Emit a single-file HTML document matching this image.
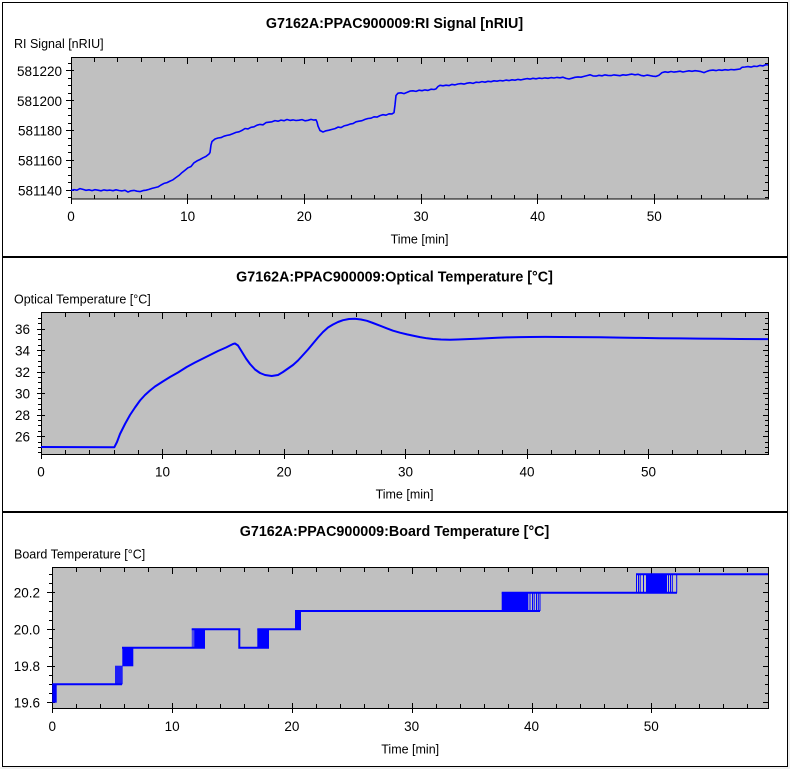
<!DOCTYPE html>
<html>
<head>
<meta charset="utf-8">
<style>
html,body{margin:0;padding:0;background:#f0f0f0;}
svg{display:block;}
text{font-family:"Liberation Sans",Arial,sans-serif;fill:#000;}
.t{font-size:14.3px;font-weight:bold;}
.l{font-size:12.5px;}
.k{font-size:13.5px;}
</style>
</head>
<body>
<svg width="790" height="769" viewBox="0 0 790 769" xmlns="http://www.w3.org/2000/svg">
<rect x="0" y="0" width="790" height="769" fill="#f0f0f0"/>
<rect x="0" y="0" width="788" height="767" fill="#fff"/>
<rect x="2.5" y="2.5" width="785" height="764" fill="none" stroke="#000" stroke-width="1"/>
<rect x="2" y="256" width="786" height="2" fill="#000"/>
<rect x="2" y="511" width="786" height="2" fill="#000"/>

<!-- ============ PANEL 1 ============ -->
<text class="t" x="394.5" y="28" text-anchor="middle">G7162A:PPAC900009:RI Signal [nRIU]</text>
<text class="l" x="14" y="48">RI Signal [nRIU]</text>
<rect x="71.5" y="57.5" width="697" height="141.5" fill="#c0c0c0" stroke="#000" stroke-width="1"/>
<g stroke="#000" stroke-width="1" fill="none" shape-rendering="crispEdges">
<path d="M94.5 195v4M117.5 195v4M141.5 195v4M164.5 195v4M211.5 195v4M234.5 195v4M257.5 195v4M281.5 195v4M327.5 195v4M351.5 195v4M374.5 195v4M397.5 195v4M444.5 195v4M467.5 195v4M491.5 195v4M514.5 195v4M561.5 195v4M584.5 195v4M607.5 195v4M631.5 195v4M677.5 195v4M701.5 195v4M724.5 195v4M747.5 195v4"/>
<path d="M71.5 194v10M187.5 194v10M304.5 194v10M421.5 194v10M537.5 194v10M654.5 194v10"/>
<path d="M94.5 58v4M117.5 58v4M141.5 58v4M164.5 58v4M211.5 58v4M234.5 58v4M257.5 58v4M281.5 58v4M327.5 58v4M351.5 58v4M374.5 58v4M397.5 58v4M444.5 58v4M467.5 58v4M491.5 58v4M514.5 58v4M561.5 58v4M584.5 58v4M607.5 58v4M631.5 58v4M677.5 58v4M701.5 58v4M724.5 58v4M747.5 58v4"/>
<path d="M187.5 58v6M304.5 58v6M421.5 58v6M537.5 58v6M654.5 58v6"/>
<path d="M68 197.5h3M68 182.5h3M68 175.5h3M68 167.5h3M68 152.5h3M68 145.5h3M68 138.5h3M68 123.5h3M68 115.5h3M68 108.5h3M68 93.5h3M68 85.5h3M68 78.5h3M68 63.5h3"/>
<path d="M66 190.5h8M66 160.5h8M66 130.5h8M66 100.5h8M66 70.5h8"/>
<path d="M765 197.5h3M765 182.5h3M765 175.5h3M765 167.5h3M765 152.5h3M765 145.5h3M765 138.5h3M765 123.5h3M765 115.5h3M765 108.5h3M765 93.5h3M765 85.5h3M765 78.5h3M765 63.5h3"/>
<path d="M763 190.5h5M763 160.5h5M763 130.5h5M763 100.5h5M763 70.5h5"/>
</g>
<g text-anchor="end">
<text class="k" x="62" y="195.5">581140</text>
<text class="k" x="62" y="165.5">581160</text>
<text class="k" x="62" y="135.6">581180</text>
<text class="k" x="62" y="105.8">581200</text>
<text class="k" x="62" y="76">581220</text>
</g>
<g text-anchor="middle">
<text class="k" x="71" y="221">0</text>
<text class="k" x="187.7" y="221">10</text>
<text class="k" x="304.3" y="221">20</text>
<text class="k" x="421" y="221">30</text>
<text class="k" x="537.7" y="221">40</text>
<text class="k" x="654.3" y="221">50</text>
</g>
<text class="l" x="419.5" y="243.3" text-anchor="middle">Time [min]</text>
<polyline fill="none" stroke="#0000ff" stroke-width="1.6" stroke-linejoin="round" points="71,190.5 74,189.6 77,190.2 80,188.6 83,189.4 86,190.3 89,189.8 92,190.6 95,189.7 98,190.2 101,190.8 104,189.9 107,190.4 110,190.1 113,190.7 116,189.8 119,190.5 122,190.9 125,190.3 128,192 131,190.8 134,190.4 137,191.2 140,191.6 143,190.6 146,190.2 149,189.4 152,188.4 155,187.6 158,186.9 161,185 164,183.4 167,182.6 170,181.1 173,179.8 176,177.5 179,175.4 182,172.6 185,170.2 188,167.8 191,166.5 194,162.8 197,160.9 200,159.5 203,157.8 206,156.4 209,154 210,152.5 211,145 212,141.5 215,139 218,138 221,137.6 224,136.2 227,135.4 230,134.8 233,133.6 236,132.4 239,131.8 242,130.4 245,128.5 248,128.9 251,127.3 254,126.8 257,125.2 260,124.4 263,124.8 266,122.6 269,122.2 272,121.8 275,120.6 278,121.2 281,120.1 284,120.7 287,119.5 290,120.4 293,119.9 296,120.5 299,120.2 302,119.6 305,120.8 308,120.3 311,119.4 314,120.1 316,119.8 317,122 318,126 320,130.5 323,132 326,130.8 329,130.2 332,129.4 335,128.6 338,127.1 341,127.6 344,125.9 347,125.2 350,124.1 353,123.6 356,121.8 359,121.2 362,120.7 365,119.4 368,118.5 371,118.2 374,116.8 377,117.1 380,115.6 383,114.7 386,115.2 389,113.8 392,113.9 394,112.6 395,105 396,95.5 398,93.2 401,92.8 404,93.6 407,92.4 410,91.1 413,90.8 416,91.4 419,90.2 422,90.7 425,89.9 428,90.4 431,89.2 434,89.5 436,88.9 438,86.5 440,85.3 443,85.8 446,85.2 449,85.6 452,84.4 455,84.9 458,84 461,83.6 464,84.1 467,83.2 470,82.7 473,83.4 476,82.2 479,82.5 482,81.6 485,82.2 488,81.3 491,81.7 494,80.8 497,81.2 500,80.5 503,80.9 506,80.1 509,80.6 512,79.8 515,80.2 518,79.4 521,79.9 524,79.2 527,78.6 530,79.1 533,78.3 536,78.8 539,78.1 542,78.5 545,77.9 548,78.3 551,77.6 554,78 557,77.4 560,77.8 563,77.2 566,78.4 569,79 572,78.2 575,77.3 578,76.9 581,77.2 584,76.4 587,75.6 590,74.8 593,75.9 596,76.1 599,75.3 602,75.8 605,74.9 608,75.4 611,75.6 614,74.9 617,75.3 620,75.7 623,74.8 626,75.2 629,74.6 632,74.1 635,74.8 638,74.3 641,75.4 644,75.9 647,75.1 650,75.6 653,76.2 656,76.4 659,75.2 662,72.6 665,71.8 668,72.3 671,71.5 674,72.1 677,71.7 680,71.2 683,72 686,71.4 689,70.8 692,71.3 695,70.7 698,71.1 701,71.6 704,72.6 707,71.3 710,70.4 713,70.1 716,70.6 719,69.9 722,70.3 725,69.7 728,70.1 731,69.5 734,69.8 737,69.4 740,69 742,67.3 745,67 748,66.6 751,67.1 754,66.2 757,66.5 760,65.4 763,65.9 766,64.6 768,65"/>

<!-- ============ PANEL 2 ============ -->
<text class="t" x="394.5" y="281.5" text-anchor="middle">G7162A:PPAC900009:Optical Temperature [°C]</text>
<text class="l" x="14" y="303.5">Optical Temperature [°C]</text>
<rect x="41.5" y="312.5" width="727" height="142" fill="#c0c0c0" stroke="#000" stroke-width="1"/>
<g stroke="#000" stroke-width="1" fill="none" shape-rendering="crispEdges">
<path d="M65.5 450v4M89.5 450v4M114.5 450v4M138.5 450v4M186.5 450v4M211.5 450v4M235.5 450v4M259.5 450v4M308.5 450v4M332.5 450v4M356.5 450v4M381.5 450v4M429.5 450v4M454.5 450v4M478.5 450v4M502.5 450v4M551.5 450v4M575.5 450v4M599.5 450v4M624.5 450v4M672.5 450v4M697.5 450v4M721.5 450v4M745.5 450v4"/>
<path d="M41.5 449v10M162.5 449v10M284.5 449v10M405.5 449v10M527.5 449v10M648.5 449v10"/>
<path d="M65.5 313v4M89.5 313v4M114.5 313v4M138.5 313v4M186.5 313v4M211.5 313v4M235.5 313v4M259.5 313v4M308.5 313v4M332.5 313v4M356.5 313v4M381.5 313v4M429.5 313v4M454.5 313v4M478.5 313v4M502.5 313v4M551.5 313v4M575.5 313v4M599.5 313v4M624.5 313v4M672.5 313v4M697.5 313v4M721.5 313v4M745.5 313v4"/>
<path d="M162.5 313v6M284.5 313v6M405.5 313v6M527.5 313v6M648.5 313v6"/>
<path d="M38 318.5h3M38 323.5h3M38 334.5h3M38 339.5h3M38 345.5h3M38 355.5h3M38 361.5h3M38 366.5h3M38 377.5h3M38 382.5h3M38 388.5h3M38 398.5h3M38 404.5h3M38 409.5h3M38 420.5h3M38 425.5h3M38 431.5h3M38 442.5h3M38 447.5h3M38 452.5h3"/>
<path d="M37 329.5h8M37 350.5h8M37 372.5h8M37 393.5h8M37 415.5h8M37 436.5h8"/>
<path d="M765 318.5h3M765 323.5h3M765 334.5h3M765 339.5h3M765 345.5h3M765 355.5h3M765 361.5h3M765 366.5h3M765 377.5h3M765 382.5h3M765 388.5h3M765 398.5h3M765 404.5h3M765 409.5h3M765 420.5h3M765 425.5h3M765 431.5h3M765 442.5h3M765 447.5h3M765 452.5h3"/>
<path d="M763 329.5h5M763 350.5h5M763 372.5h5M763 393.5h5M763 415.5h5M763 436.5h5"/>
</g>
<g text-anchor="end">
<text class="k" x="30" y="334">36</text>
<text class="k" x="30" y="355.5">34</text>
<text class="k" x="30" y="377">32</text>
<text class="k" x="30" y="398.6">30</text>
<text class="k" x="30" y="420">28</text>
<text class="k" x="30" y="441.7">26</text>
</g>
<g text-anchor="middle">
<text class="k" x="41" y="476.3">0</text>
<text class="k" x="162.5" y="476.3">10</text>
<text class="k" x="284" y="476.3">20</text>
<text class="k" x="405.5" y="476.3">30</text>
<text class="k" x="527" y="476.3">40</text>
<text class="k" x="648.5" y="476.3">50</text>
</g>
<text class="l" x="404.5" y="498.6" text-anchor="middle">Time [min]</text>
<polyline fill="none" stroke="#0000ff" stroke-width="2" stroke-linejoin="round" points="41,447 114.3,447.3 117,442 120,434 125,424 130,415 135,407.5 140,400.5 145,395 150,390.5 155,386.5 162,382 170,377 178,372.5 186.7,367 195,362.5 203,358.5 210,355 218,351 226,347.5 233,344 235,343.5 238,345.5 242,352 246,358.5 250,364 255,369.5 260,373 265,375 271.7,376 278,375 283,372 288,368.5 293,365 298,360.5 303,355 308,349.5 313,343.5 318,337.5 323,332 328,327.5 333,324.5 338,322 343,320.2 349,319 355,318.8 361,319.5 367,320.8 373,323 380,325.7 387,328.4 393,330.7 400,332.7 407,334.4 414,335.9 420,337.1 427,338.3 433,339 441,339.5 450,339.7 458,339.5 467,339.1 477,338.7 487,338.3 497,337.8 507,337.4 520,337.1 530,337 545,336.9 560,337 580,337.1 600,337.3 620,337.6 640,337.9 660,338.2 680,338.4 700,338.6 720,338.8 740,339 768,339.1"/>

<!-- ============ PANEL 3 ============ -->
<text class="t" x="394.5" y="536" text-anchor="middle">G7162A:PPAC900009:Board Temperature [°C]</text>
<text class="l" x="14" y="558.5">Board Temperature [°C]</text>
<rect x="52.5" y="567.5" width="716" height="141" fill="#c0c0c0" stroke="#000" stroke-width="1"/>
<g stroke="#000" stroke-width="1" fill="none" shape-rendering="crispEdges">
<path d="M76.5 704v4M100.5 704v4M124.5 704v4M148.5 704v4M196.5 704v4M220.5 704v4M244.5 704v4M268.5 704v4M316.5 704v4M340.5 704v4M364.5 704v4M388.5 704v4M436.5 704v4M460.5 704v4M484.5 704v4M508.5 704v4M556.5 704v4M580.5 704v4M604.5 704v4M627.5 704v4M675.5 704v4M699.5 704v4M723.5 704v4M747.5 704v4"/>
<path d="M52.5 703v10M172.5 703v10M292.5 703v10M412.5 703v10M532.5 703v10M651.5 703v10"/>
<path d="M76.5 568v4M100.5 568v4M124.5 568v4M148.5 568v4M196.5 568v4M220.5 568v4M244.5 568v4M268.5 568v4M316.5 568v4M340.5 568v4M364.5 568v4M388.5 568v4M436.5 568v4M460.5 568v4M484.5 568v4M508.5 568v4M556.5 568v4M580.5 568v4M604.5 568v4M627.5 568v4M675.5 568v4M699.5 568v4M723.5 568v4M747.5 568v4"/>
<path d="M172.5 568v6M292.5 568v6M412.5 568v6M532.5 568v6M651.5 568v6"/>
<path d="M49 693.5h3M49 684.5h3M49 675.5h3M49 656.5h3M49 647.5h3M49 638.5h3M49 620.5h3M49 611.5h3M49 601.5h3M49 583.5h3M49 574.5h3"/>
<path d="M47 702.5h8M47 666.5h8M47 629.5h8M47 592.5h8"/>
<path d="M765 693.5h3M765 684.5h3M765 675.5h3M765 656.5h3M765 647.5h3M765 638.5h3M765 620.5h3M765 611.5h3M765 601.5h3M765 583.5h3M765 574.5h3"/>
<path d="M763 702.5h5M763 666.5h5M763 629.5h5M763 592.5h5"/>
</g>
<g text-anchor="end">
<text class="k" x="40" y="707.5">19.6</text>
<text class="k" x="40" y="671">19.8</text>
<text class="k" x="40" y="634.3">20.0</text>
<text class="k" x="40" y="597.7">20.2</text>
</g>
<g text-anchor="middle">
<text class="k" x="52.3" y="731">0</text>
<text class="k" x="172.1" y="731">10</text>
<text class="k" x="291.9" y="731">20</text>
<text class="k" x="411.7" y="731">30</text>
<text class="k" x="531.5" y="731">40</text>
<text class="k" x="651.3" y="731">50</text>
</g>
<text class="l" x="410.2" y="753.3" text-anchor="middle">Time [min]</text>
<g fill="#0000ff">
<rect x="52.3" y="684.3" width="4.4" height="18.4"/>
<rect x="115" y="665.7" width="7.7" height="18.6" fill-opacity="0.85"/>
<rect x="122.3" y="647.7" width="11" height="18.6"/>
<rect x="191.7" y="629.3" width="2.5" height="18.4" fill-opacity="0.6"/>
<rect x="194.2" y="629.3" width="10.8" height="18.4"/>
<rect x="257.3" y="629.3" width="11.7" height="18.4"/>
<rect x="295" y="611" width="6" height="18.3"/>
<rect x="501.7" y="592.7" width="26.6" height="18.3"/>
<rect x="646" y="574.3" width="21" height="18.4"/>
</g>
<g stroke="#0000ff" stroke-width="1" fill="none">
<path d="M530 592.7V611M532.5 592.7V611M534.2 592.7V611M536.5 592.7V611M538.3 592.7V611M540 592.7V611"/>
<path d="M636.5 574.3V592.7M638.5 574.3V592.7M640.2 574.3V592.7M643.5 574.3V592.7M668.5 574.3V592.7M670.5 574.3V592.7M672.3 574.3V592.7M676.7 574.3V592.7"/>
</g>
<path fill="none" stroke="#0000ff" stroke-width="2" d="M52.3 684.3H122M122 647.7H205M191.7 629.3H239.3V647.7H269M257.3 629.3H301M295 611H540M501.7 592.7H677M636 574.3H768"/>
</svg>
</body>
</html>
